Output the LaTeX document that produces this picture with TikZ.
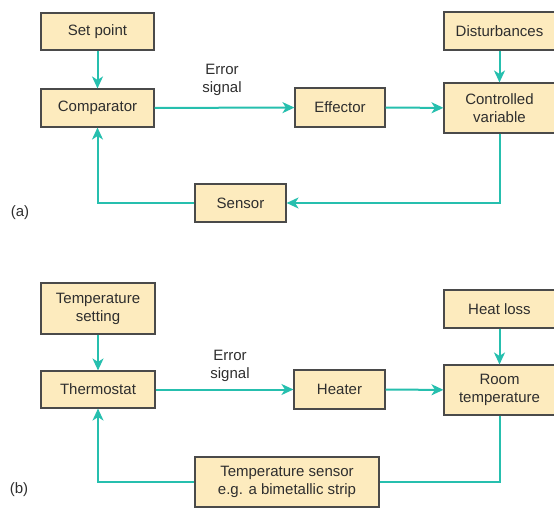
\documentclass[tikz,border=0pt]{standalone}
\usepackage{fontspec}
\setmainfont{Liberation Sans}
\usetikzlibrary{arrows.meta, positioning}
\definecolor{boxfill}{HTML}{FDEBBE}
\definecolor{boxline}{HTML}{4A4A4A}
\definecolor{flowteal}{HTML}{26BFAE}

\begin{document}
\begin{tikzpicture}[x=1pt, y=-1pt,
  box/.style={rectangle, draw=boxline, line width=1.1pt, fill=boxfill, align=center,
              inner sep=0pt, text=black!82, font=\fontsize{15}{18}\selectfont},
  lbl/.style={align=center, inner sep=0pt, font=\fontsize{15}{18}\selectfont, text=black!82},
  arr/.style={-{Stealth[length=12pt, width=11pt, inset=3.5pt]}, line width=2pt, flowteal},
  link/.style={line width=2pt, flowteal}
]
\useasboundingbox (0,0) rectangle (554,508);
% (a) general loop
\node[box, minimum width=113pt, minimum height=37pt] (setpt) at (97.5,31.5) {Set point};
\node[box, minimum width=113pt, minimum height=38pt] (comp) at (97.5,108) {Comparator};
\node[box, minimum width=90pt, minimum height=39pt] (effector) at (340,107.5) {Effector};
\node[box, minimum width=111pt, minimum height=38pt] (dist) at (499.5,31) {Disturbances};
\node[box, minimum width=111pt, minimum height=50pt] (ctrl) at (499.5,108) {Controlled\\variable};
\node[box, minimum width=91pt, minimum height=38pt] (sensor) at (240.5,203) {Sensor};
\node[lbl] (erra) at (222,80) {Error\\signal};
\node[lbl] (taga) at (20,213) {(a)};
\draw[arr] (setpt) -- (comp);
\draw[arr] (comp) -- (effector);
\draw[arr] (effector) -- (ctrl);
\draw[arr] (dist) -- (ctrl);
\draw[arr] (ctrl.south) |- (sensor.east);
\draw[arr] (sensor.west) -| (comp.south);
% (b) room heating
\node[box, minimum width=114pt, minimum height=51pt] (tset) at (98,308.5) {Temperature\\setting};
\node[box, minimum width=114pt, minimum height=37pt] (thermo) at (98,389.5) {Thermostat};
\node[box, minimum width=91pt, minimum height=39pt] (heater) at (339.5,389.5) {Heater};
\node[box, minimum width=111pt, minimum height=38pt] (hloss) at (499.5,309) {Heat loss};
\node[box, minimum width=111pt, minimum height=50pt] (room) at (499.5,390) {Room\\temperature};
\node[box, minimum width=184pt, minimum height=50pt] (tsensor) at (287,482) {Temperature sensor\\e.g. a bimetallic strip};
\node[lbl] (errb) at (230,365.5) {Error\\signal};
\node[lbl] (tagb) at (19,490) {(b)};
\draw[arr] (tset) -- (thermo);
\draw[arr] (thermo) -- (heater);
\draw[arr] (heater) -- (room);
\draw[arr] (hloss) -- (room);
\draw[link] (room.south) |- (tsensor.east);
\draw[arr] (tsensor.west) -| (thermo.south);
\end{tikzpicture}
\end{document}
